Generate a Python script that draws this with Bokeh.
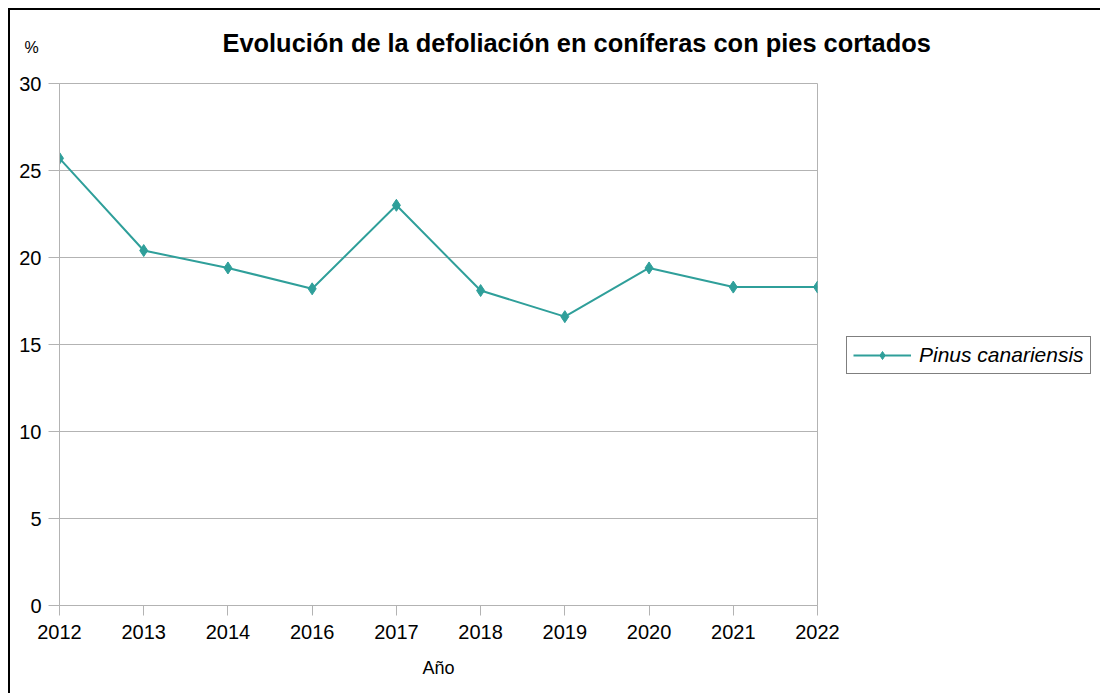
from bokeh.plotting import figure
from bokeh.models import FixedTicker, Label, Legend, LegendItem, Range1d
from bokeh.embed import file_html
from bokeh.resources import INLINE

years = ["2012", "2013", "2014", "2016", "2017", "2018", "2019", "2020", "2021", "2022"]
defoliation = [25.7, 20.4, 19.4, 18.2, 23.0, 18.1, 16.6, 19.4, 18.3, 18.3]
y_ticks = [0, 5, 10, 15, 20, 25, 30]
series_name = "Pinus canariensis"
title_text = "Evolución de la defoliación en coníferas con pies cortados"

xs = list(range(len(years)))
FONT = "Liberation Sans"
TEAL = "#2f9f9a"
GRID = "#b3b3b3"

p = figure(frame_width=758, frame_height=522, output_backend="svg", toolbar_location=None,
           x_range=Range1d(0, len(years) - 1), y_range=Range1d(0, 30),
           min_border_left=49, min_border_right=283, min_border_top=73, min_border_bottom=88)
p.styles = {"margin-left": "8px", "margin-top": "8px",
            "border-top": "2px solid black", "border-left": "2px solid black"}
p.outline_line_color = GRID
p.outline_line_width = 1

p.title.text = title_text
p.title.text_font = FONT
p.title.text_font_size = "25.4px"
p.title.text_font_style = "bold"
p.title.text_color = "#000000"
p.title.align = "left"
p.title.offset = 163
p.title.standoff = 20

p.xaxis.ticker = FixedTicker(ticks=xs)
p.xaxis.major_label_overrides = {i: y for i, y in enumerate(years)}
p.yaxis.ticker = FixedTicker(ticks=y_ticks)
for ax in (p.xaxis, p.yaxis):
    ax.axis_line_color = GRID
    ax.major_tick_line_color = GRID
    ax.minor_tick_line_color = None
    ax.major_tick_in = 0
    ax.major_label_text_font = FONT
    ax.major_label_text_font_size = "20px"
    ax.major_label_text_color = "#000000"
p.xaxis.major_tick_out = 10
p.yaxis.major_tick_out = 11
p.xaxis.major_label_standoff = 9
p.yaxis.major_label_standoff = 7
p.xaxis.axis_label = "Año"
p.xaxis.axis_label_text_font = FONT
p.xaxis.axis_label_text_font_size = "18px"
p.xaxis.axis_label_text_font_style = "normal"
p.xaxis.axis_label_text_color = "#000000"
p.xaxis.axis_label_standoff = 16
p.xgrid.grid_line_color = None
p.ygrid.grid_line_color = GRID
p.ygrid.grid_line_width = 1

r_line = p.line(xs, defoliation, line_color=TEAL, line_width=2)
r_mark = p.scatter(xs, defoliation, marker="diamond", size=12,
                   fill_color=TEAL, line_color=TEAL)

legend = Legend(items=[LegendItem(label=series_name, renderers=[r_line, r_mark])],
                location=(29, 231), border_line_color="black", border_line_width=1,
                label_text_font=FONT, label_text_font_style="italic", label_text_font_size="21px",
                label_text_color="#000000",
                glyph_width=58, glyph_height=20, label_standoff=8, padding=6, margin=0,
                background_fill_alpha=1.0)
p.add_layout(legend, "right")

p.add_layout(Label(x=-28, y=36, x_units="screen", y_units="screen", text="%", text_font=FONT,
                   text_font_size="16px", text_color="#000000",
                   text_align="center", text_baseline="middle"), "above")

open("out.html", "w").write(file_html(p, INLINE))
